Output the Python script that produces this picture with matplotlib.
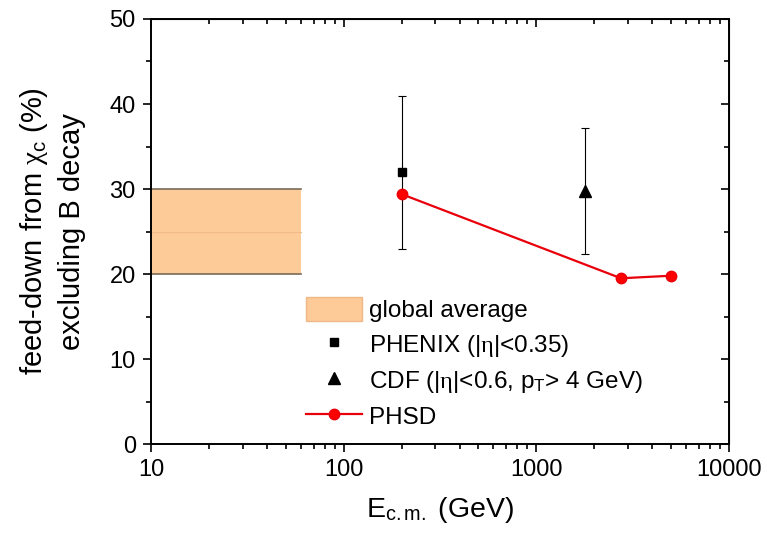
import numpy as np
import matplotlib
matplotlib.use('Agg')
import matplotlib.pyplot as plt
from matplotlib.patches import Patch
from matplotlib.lines import Line2D
from matplotlib.ticker import LogLocator, MultipleLocator, NullFormatter

plt.rcParams['font.family'] = ['Liberation Sans', 'DejaVu Sans']
plt.rcParams['mathtext.fontset'] = 'custom'
plt.rcParams['mathtext.rm'] = 'Liberation Sans'
plt.rcParams['mathtext.it'] = 'Liberation Serif'
plt.rcParams['mathtext.bf'] = 'Liberation Sans:bold'

# global average band
band_x = [10, 60]
band_lo = 20
band_mid = 25
band_hi = 30

# PHENIX
phenix_x = [200]
phenix_y = [32.0]
phenix_err = [9.0]

# CDF
cdf_x = [1800]
cdf_y = [29.8]
cdf_err = [7.4]

# PHSD
phsd_x = [200, 2760, 5020]
phsd_y = [29.4, 19.5, 19.8]

fig = plt.figure(figsize=(7.67, 5.35), dpi=100)
ax = fig.add_axes([0.197, 0.170, 0.753, 0.7945])

ax.fill_between(band_x, band_lo, band_hi, color='#FDCB98', lw=0, zorder=1)
ax.plot(band_x, [band_hi, band_hi], color='#7a6a5a', lw=1.2, zorder=2)
ax.plot(band_x, [band_lo, band_lo], color='#7a6a5a', lw=1.2, zorder=2)
ax.plot(band_x, [band_mid, band_mid], color='#F2B98A', lw=0.8, zorder=2)

ax.errorbar(phenix_x, phenix_y, yerr=phenix_err, fmt='s', color='black',
            ms=6, elinewidth=0.8, capsize=3, capthick=0.8, zorder=3)
ax.errorbar(cdf_x, cdf_y, yerr=cdf_err, fmt='^', color='black',
            ms=8, elinewidth=0.8, capsize=3, capthick=0.8, zorder=3)
ax.plot(phsd_x, phsd_y, '-o', color='#E8000B', lw=1.6, ms=7.5,
        markerfacecolor='#FF0000', markeredgecolor='#E8000B', zorder=4)

ax.set_xscale('log')
ax.set_xlim(10, 10000)
ax.set_ylim(0, 50)
ax.set_xticks([10, 100, 1000, 10000])
ax.set_xticklabels(['10', '100', '1000', '10000'])
ax.xaxis.set_minor_locator(LogLocator(base=10, subs=np.arange(2, 10), numticks=20))
ax.xaxis.set_minor_formatter(NullFormatter())
ax.yaxis.set_major_locator(MultipleLocator(10))
ax.yaxis.set_minor_locator(MultipleLocator(5))

ax.tick_params(which='both', direction='out', top=False, right=False, labelsize=17, width=1.2)
ax.tick_params(which='major', length=6, pad=5)
ax.tick_params(which='minor', length=3.5)
for sp in ax.spines.values():
    sp.set_linewidth(1.4)

# inward ticks on top and right
sec_x = ax.secondary_xaxis('top')
sec_x.set_xticks([10, 100, 1000, 10000])
sec_x.xaxis.set_minor_locator(LogLocator(base=10, subs=np.arange(2, 10), numticks=20))
sec_x.tick_params(which='both', direction='in', labeltop=False, width=1.2)
sec_x.tick_params(which='major', length=6)
sec_x.tick_params(which='minor', length=3.5)
sec_x.xaxis.set_minor_formatter(NullFormatter())
sec_y = ax.secondary_yaxis('right')
sec_y.yaxis.set_major_locator(MultipleLocator(10))
sec_y.yaxis.set_minor_locator(MultipleLocator(5))
sec_y.tick_params(which='both', direction='in', labelright=False, width=1.2)
sec_y.tick_params(which='major', length=6)
sec_y.tick_params(which='minor', length=3.5)

ax.set_xlabel(r'E$_{\mathrm{c.m.}}$ (GeV)', fontsize=20.5, labelpad=10)
ax.set_ylabel('feed-down from $\\chi_{\\mathrm{c}}$ (%)\nexcluding B decay',
              fontsize=21, labelpad=17, linespacing=1.35)

handles = [
    Patch(facecolor='#FDCB98', edgecolor='#F0B888', lw=1),
    Line2D([], [], ls='none', marker='s', color='black', ms=6),
    Line2D([], [], ls='none', marker='^', color='black', ms=8),
    Line2D([], [], ls='-', marker='o', color='#E8000B', lw=1.6, ms=7.5,
           markerfacecolor='#FF0000'),
]
labels = [
    'global average',
    r'PHENIX (|$\eta$|<0.35)',
    r'CDF (|$\eta$|<0.6, p$_\mathrm{T}$> 4 GeV)',
    'PHSD',
]
ax.legend(handles, labels, loc='upper left', bbox_to_anchor=(0.268, 0.345),
          frameon=False, fontsize=17.5, handlelength=2.3, handleheight=1.1,
          handletextpad=0.3, labelspacing=0.38, borderaxespad=0, borderpad=0)

fig.savefig('out.png', dpi=100)
